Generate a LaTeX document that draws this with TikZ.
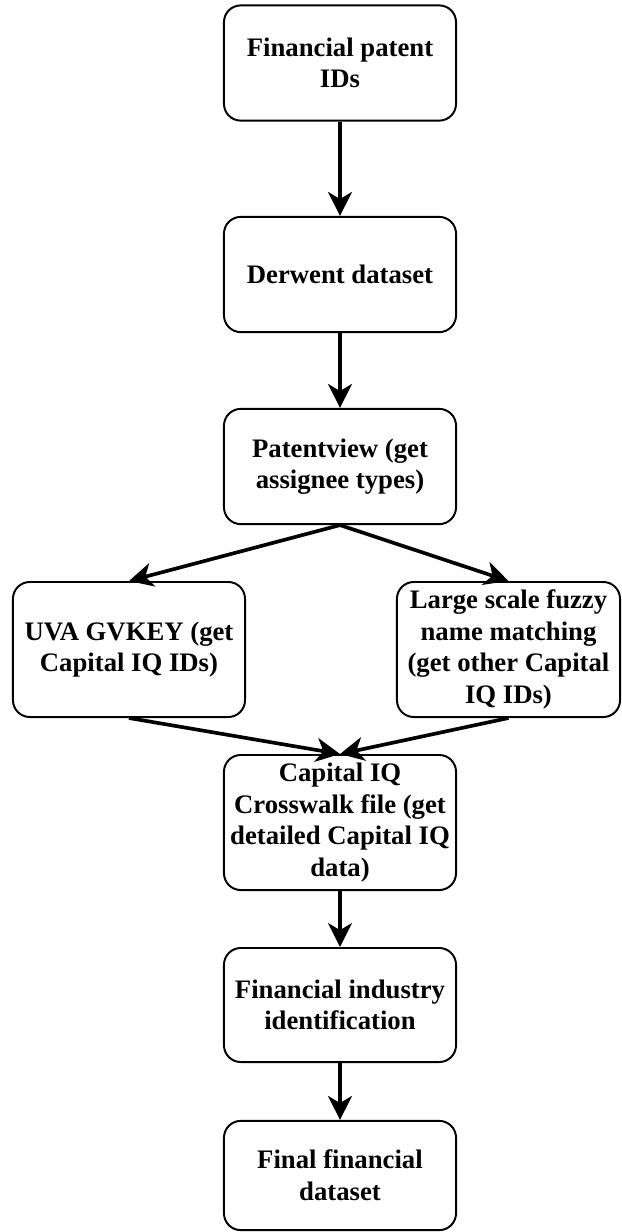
\documentclass[tikz,border=0pt]{standalone}
\usepackage{fontspec}
\setmainfont{Liberation Serif}
\usetikzlibrary{arrows.meta}

\begin{document}
\begin{tikzpicture}[x=0.025cm, y=-0.025cm,
    box/.style={draw, line width=1.4pt, rounded corners=0.42cm, align=center,
        inner sep=0pt, minimum width=5.8cm, minimum height=2.88cm,
        font=\bfseries\fontsize{19}{22.5}\selectfont},
    flow/.style={-{Stealth[length=17pt, width=17pt, inset=5pt]}, line width=2.6pt}]
        \useasboundingbox (0,0) rectangle (621,1232);

        % === Main column ===
        \node[box] (patents) at (340,63) {Financial patent\\IDs};
        \node[box] (derwent) at (340,274.5) {Derwent dataset};
        \node[box] (patentview) at (340,466.5) {Patentview (get\\assignee types)};

        % === Two matching routes ===
        \node[box, minimum height=3.375cm] (gvkey) at (129,649.5) {UVA GVKEY (get\\Capital IQ IDs)};
        \node[box, minimum height=3.375cm, minimum width=5.575cm] (fuzzy) at (508.5,649.5)
            {Large scale fuzzy\\name matching\\(get other Capital\\IQ IDs)};

        % === Merge and final steps ===
        \node[box, minimum height=3.375cm] (crosswalk) at (340,822.5)
            {Capital IQ\\Crosswalk file (get\\detailed Capital IQ\\data)};
        \node[box, minimum height=2.85cm] (industry) at (340,1005) {Financial industry\\identification};
        \node[box, minimum height=2.73cm] (final) at (340,1175.5) {Final financial\\dataset};

        % === Arrows ===
        \draw[flow] (patents) -- (derwent);
        \draw[flow] (derwent) -- (patentview);
        \draw[flow] (patentview.south) -- (gvkey.north);
        \draw[flow] (patentview.south) -- (fuzzy.north);
        \draw[flow] (gvkey.south) -- (crosswalk.north);
        \draw[flow] (fuzzy.south) -- (crosswalk.north);
        \draw[flow] (crosswalk) -- (industry);
        \draw[flow] (industry) -- (final);

        \end{tikzpicture}
\end{document}
